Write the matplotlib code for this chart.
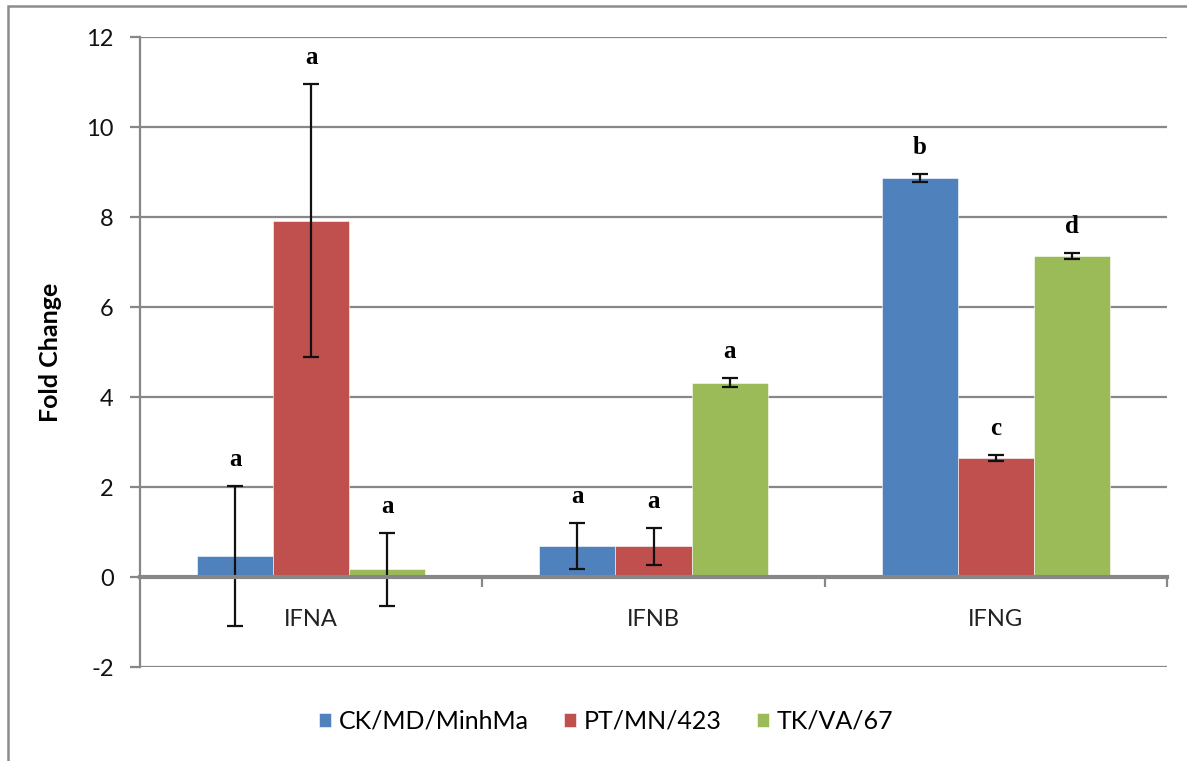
import matplotlib
matplotlib.use("Agg")
import matplotlib.pyplot as plt
from matplotlib.patches import Rectangle
import numpy as np

# fold change per gene and strain, with standard deviation
genes = ["IFNA", "IFNB", "IFNG"]
strains = ["CK/MD/MinhMa", "PT/MN/423", "TK/VA/67"]
ck_md = [0.47, 0.69, 8.87]
pt_mn = [7.92, 0.68, 2.64]
tk_va = [0.17, 4.32, 7.13]
ck_md_err = [1.55, 0.51, 0.09]
pt_mn_err = [3.03, 0.41, 0.07]
tk_va_err = [0.81, 0.10, 0.07]
ck_md_sig = ["a", "a", "b"]
pt_mn_sig = ["a", "a", "c"]
tk_va_sig = ["a", "a", "d"]

colors = ["#4F81BD", "#C0504D", "#9BBB59"]
grid_col = "#878787"

plt.rcParams['font.family'] = ['Lato', 'DejaVu Sans']

fig = plt.figure(figsize=(11.87, 7.61), dpi=100)
ax = fig.add_axes([140/1187, 1-667/761, 1027/1187, 630/761])

# chart area border
fig.patches.append(Rectangle((8/1187, -0.2), 1.5, 1.2-6/761, transform=fig.transFigure,
                             fill=False, edgecolor="#8c8c8c", linewidth=1.8, zorder=0))

x = np.arange(len(genes))
w = 76/342
series = [(ck_md, ck_md_err, ck_md_sig), (pt_mn, pt_mn_err, pt_mn_sig), (tk_va, tk_va_err, tk_va_sig)]
for i, (vals, errs, sig) in enumerate(series):
    pos = x + (i - 1) * w
    ax.bar(pos, vals, width=w, color=colors[i], edgecolor="white", linewidth=0.4,
           label=strains[i], zorder=3)
    ax.errorbar(pos, vals, yerr=errs, fmt="none", ecolor="#111111", elinewidth=1.6,
                capsize=6, capthick=1.6, zorder=4)
    for p, v, e, s in zip(pos, vals, errs, sig):
        ax.text(p, v + e + 0.45, s, ha="center", va="baseline", fontsize=18,
                fontweight="bold", family="Liberation Serif", zorder=5)

ax.set_xlim(-0.5, 2.5)
ax.set_ylim(-2, 12)
ax.set_yticks(np.arange(-2, 13, 2))
ax.set_yticklabels([str(t) for t in range(-2, 13, 2)])
for t in [-2, 2, 4, 6, 8, 10, 12]:
    ax.axhline(t, color=grid_col, linewidth=1.6, zorder=1)

for s in ["top", "right"]:
    ax.spines[s].set_visible(False)
ax.spines["left"].set_color(grid_col)
ax.spines["left"].set_linewidth(1.6)
ax.spines["bottom"].set_position(("data", 0))
ax.spines["bottom"].set_color(grid_col)
ax.spines["bottom"].set_linewidth(3)
ax.spines["bottom"].set_zorder(4)

ax.set_xticks(x)
ax.set_xticklabels(genes)
ax.set_xticks([0.5, 1.5, 2.5], minor=True)
ax.tick_params(axis="x", which="major", length=0, pad=23, labelsize=17, labelcolor="#222222")
ax.tick_params(axis="x", which="minor", length=7, width=1.6, color=grid_col)
ax.tick_params(axis="y", length=7, width=1.6, color=grid_col, pad=12,
               labelsize=17, labelcolor="#111111")

ax.set_ylabel("Fold Change", fontsize=18, fontweight="bold")
ax.yaxis.set_label_coords(-78/1027, 0.5)

fig.legend(loc="center", bbox_to_anchor=(606/1187, 1-721/761), ncol=3, frameon=False,
           fontsize=18, handlelength=0.5, handleheight=0.5, handletextpad=0.3,
           columnspacing=1.4)

fig.savefig("out.png", dpi=100)
